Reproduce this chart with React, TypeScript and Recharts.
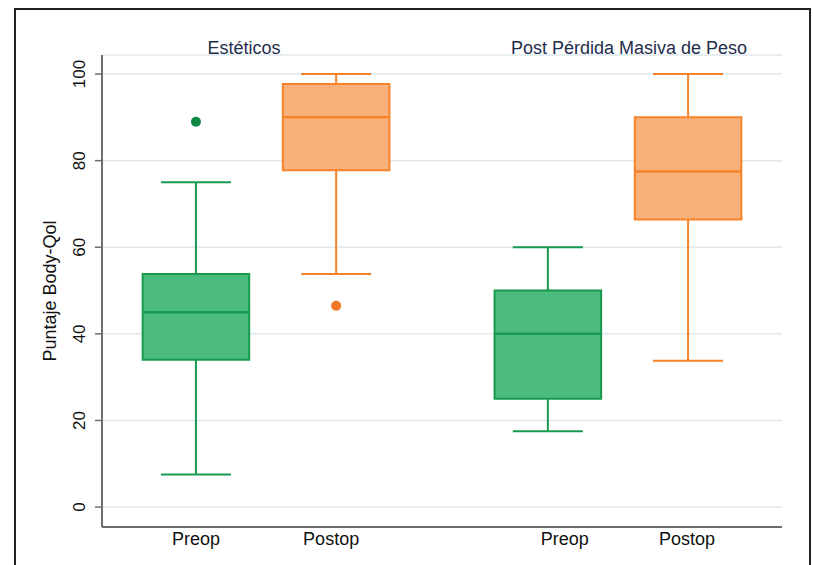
import React from 'react';
import {
  CartesianGrid,
  ComposedChart,
  Cell,
  ReferenceArea,
  ReferenceLine,
  Scatter,
  XAxis,
  YAxis,
} from 'recharts';

// Box order: Estéticos Preop, Estéticos Postop, Post PMP Preop, Post PMP Postop
const groups = ['Estéticos', 'Post Pérdida Masiva de Peso'];
const categories = ['Preop', 'Postop'];

const lowerWhisker = [7.5, 53.8, 17.5, 33.8];
const q1 = [34, 77.8, 25, 66.4];
const median = [45, 90, 40, 77.5];
const q3 = [53.8, 97.7, 50, 90];
const upperWhisker = [75, 100, 60, 100];

const outlierBox = [0, 1];
const outlierValue = [89, 46.5];

const yTicks = [0, 20, 40, 60, 80, 100];

// layout of the category axis (data units)
const EDGE = 0.67;
const GROUP_STEP = 2.51;
const X_MAX = EDGE * 2 + GROUP_STEP + 1;
const BOX_HALF = 0.38;
const CAP_HALF = 0.25;
// small nudges of the category labels, px
const LABEL_SHIFT = [0, -5, 17, -1];
const TITLE_X = [244, 629];

const FONT = '"Liberation Sans", Arial, Helvetica, sans-serif';
const palette = [
  { fill: '#4bbb7e', stroke: '#17994e', dot: '#0c8a44' },
  { fill: '#f9b07a', stroke: '#f5832a', dot: '#f07828' },
];

const boxes = groups.flatMap((_, gi) =>
  categories.map((label, ci) => ({
    label,
    cat: ci,
    x: EDGE + gi * GROUP_STEP + ci,
  })),
);
const positions = boxes.map((b) => b.x);

const outliers = outlierBox.map((bi, i) => ({
  x: boxes[bi].x,
  y: outlierValue[i],
  cat: boxes[bi].cat,
}));

const YTick = (props: any) => {
  const { x, y, payload } = props;
  return (
    <text
      x={x}
      y={y}
      transform={`rotate(-90, ${x}, ${y})`}
      textAnchor="middle"
      fill="#111"
      fontSize={17}
      fontFamily={FONT}
    >
      {payload.value}
    </text>
  );
};

const XTick = (props: any) => {
  const { x, y, index } = props;
  return (
    <text
      x={x + (LABEL_SHIFT[index] ?? 0)}
      y={y}
      dy="0.71em"
      textAnchor="middle"
      fill="#111"
      fontSize={18}
      fontFamily={FONT}
    >
      {boxes[index]?.label}
    </text>
  );
};

export default function App() {
  return (
    <div
      style={{
        position: 'absolute',
        left: 0,
        top: 0,
        width: 813,
        height: 565,
        overflow: 'hidden',
        background: '#fff',
        fontFamily: FONT,
      }}
    >
      <div
        style={{
          position: 'absolute',
          left: 14,
          top: 8,
          width: 793,
          height: 620,
          border: '2px solid #222',
        }}
      />
      <div style={{ position: 'absolute', left: 0, top: 0 }}>
        <ComposedChart width={813} height={565} margin={{ top: 55, right: 31, bottom: 0, left: 0 }}>
          <CartesianGrid vertical={false} stroke="#dfe8ec" strokeWidth={1.5} />
          <XAxis
            type="number"
            dataKey="x"
            domain={[0, X_MAX]}
            ticks={positions}
            interval={0}
            height={38}
            tickLine={false}
            tickSize={0}
            tickMargin={5}
            axisLine={{ stroke: '#6e6e6e', strokeWidth: 2 }}
            tick={<XTick />}
            allowDataOverflow
          />
          <YAxis
            type="number"
            dataKey="y"
            domain={[-4.6, 104.4]}
            ticks={yTicks}
            interval={0}
            width={102}
            tickSize={7}
            tickMargin={10}
            tickLine={{ stroke: '#6e6e6e', strokeWidth: 1.5 }}
            axisLine={{ stroke: '#6e6e6e', strokeWidth: 2 }}
            tick={<YTick />}
            allowDataOverflow
            label={{
              value: 'Puntaje Body-Qol',
              angle: -90,
              position: 'center',
              dx: -1,
              fill: '#111',
              fontSize: 18,
              fontFamily: FONT,
            }}
          />

          {boxes.map((b, i) => {
            const c = palette[b.cat];
            return (
              <React.Fragment key={i}>
                <ReferenceLine
                  segment={[{ x: b.x, y: lowerWhisker[i] }, { x: b.x, y: q1[i] }]}
                  stroke={c.stroke}
                  strokeWidth={2}
                  ifOverflow="visible"
                />
                <ReferenceLine
                  segment={[{ x: b.x, y: q3[i] }, { x: b.x, y: upperWhisker[i] }]}
                  stroke={c.stroke}
                  strokeWidth={2}
                  ifOverflow="visible"
                />
                <ReferenceLine
                  segment={[{ x: b.x - CAP_HALF, y: lowerWhisker[i] }, { x: b.x + CAP_HALF, y: lowerWhisker[i] }]}
                  stroke={c.stroke}
                  strokeWidth={2}
                  ifOverflow="visible"
                />
                <ReferenceLine
                  segment={[{ x: b.x - CAP_HALF, y: upperWhisker[i] }, { x: b.x + CAP_HALF, y: upperWhisker[i] }]}
                  stroke={c.stroke}
                  strokeWidth={2}
                  ifOverflow="visible"
                />
                <ReferenceArea
                  x1={b.x - BOX_HALF}
                  x2={b.x + BOX_HALF}
                  y1={q1[i]}
                  y2={q3[i]}
                  fill={c.fill}
                  fillOpacity={1}
                  stroke={c.stroke}
                  strokeWidth={2}
                  ifOverflow="visible"
                />
                <ReferenceLine
                  segment={[{ x: b.x - BOX_HALF, y: median[i] }, { x: b.x + BOX_HALF, y: median[i] }]}
                  stroke={c.stroke}
                  strokeWidth={2.5}
                  ifOverflow="visible"
                />
              </React.Fragment>
            );
          })}

          <Scatter
            data={outliers}
            dataKey="y"
            isAnimationActive={false}
            shape={(p: any) => <circle cx={p.cx} cy={p.cy} r={5} fill={p.fill} />}
          >
            {outliers.map((o, i) => (
              <Cell key={i} fill={palette[o.cat].dot} />
            ))}
          </Scatter>
        </ComposedChart>
      </div>

      {groups.map((g, gi) => (
        <div
          key={g}
          style={{
            position: 'absolute',
            left: TITLE_X[gi],
            top: 37,
            transform: 'translateX(-50%)',
            whiteSpace: 'nowrap',
            color: '#1f2d4e',
            fontSize: 18,
            lineHeight: '22px',
          }}
        >
          {g}
        </div>
      ))}
    </div>
  );
}
